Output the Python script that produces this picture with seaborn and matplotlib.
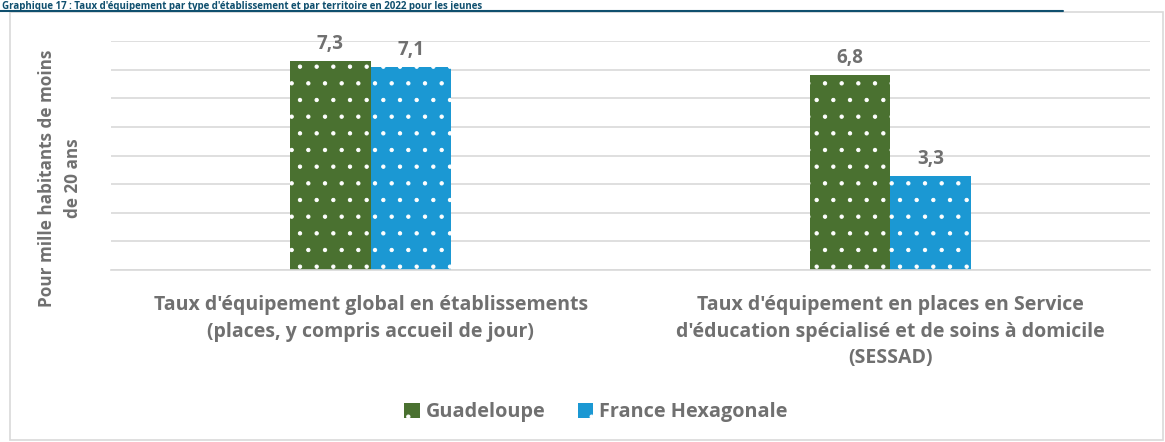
import matplotlib
matplotlib.use('Agg')
import matplotlib.pyplot as plt
from matplotlib.patches import Rectangle, Patch
from matplotlib.lines import Line2D
import pandas as pd
import seaborn as sns

categories = [
    "Taux d'équipement global en établissements\n(places, y compris accueil de jour)",
    "Taux d'équipement en places en Service\nd'éducation spécialisé et de soins à domicile\n(SESSAD)",
]
territoires = ['Guadeloupe', 'France Hexagonale']
guadeloupe = [7.3, 6.8]
france = [7.1, 3.3]
couleurs = ['#4a7130', '#1b98d3']
gris = '#707070'

df = pd.DataFrame({
    'categorie': categories * 2,
    'territoire': [territoires[0]] * 2 + [territoires[1]] * 2,
    'valeur': guadeloupe + france,
})

sns.set_style('white')
plt.rcParams['font.family'] = ['Open Sans', 'DejaVu Sans']
plt.rcParams['hatch.linewidth'] = 0.7

W, H = 1165, 442
fig = plt.figure(figsize=(W / 100, H / 100), dpi=100)
ax = fig.add_axes([111 / W, 1 - 270 / H, (1150 - 111) / W, (270 - 41) / H])

sns.barplot(data=df, x='categorie', y='valeur', hue='territoire', palette=couleurs,
            width=0.31, gap=0, ax=ax, legend=False, saturation=1)

for p in ax.patches:
    p.set_hatch('.')
    p.set_edgecolor('white')
    p.set_linewidth(0)

for cont in ax.containers:
    labels = [f'{v:.1f}'.replace('.', ',') for v in cont.datavalues]
    ax.bar_label(cont, labels=labels, padding=5, fontsize=13.5, fontweight='bold', color=gris)

ax.set_ylim(0, 8)
ax.set_xlim(-0.5, 1.5)
ax.set_yticks(range(0, 9))
ax.set_yticklabels([])
ax.tick_params(axis='y', length=0)
ax.tick_params(axis='x', length=0, pad=18)
ax.grid(axis='y', color='#d9d9d9', linewidth=1.2)
ax.set_axisbelow(True)
for s in ['top', 'right', 'left']:
    ax.spines[s].set_visible(False)
ax.spines['bottom'].set_color('#d9d9d9')
ax.spines['bottom'].set_linewidth(1.2)
for lbl in ax.get_xticklabels():
    lbl.set_fontsize(14)
    lbl.set_fontweight('bold')
    lbl.set_color(gris)
    lbl.set_linespacing(1.45)
ax.set_xlabel('')
ax.set_ylabel('')

fig.text(60 / W, 1 - 178 / H, 'Pour mille habitants de moins\nde 20 ans', rotation=90,
         ha='center', va='center', multialignment='center', fontsize=12.3,
         fontweight='bold', color=gris, linespacing=1.6)

handles = [Patch(facecolor=c, edgecolor='white', hatch='.', linewidth=0) for c in couleurs]
fig.legend(handles, territoires, loc='center', bbox_to_anchor=(596 / W, 1 - 412 / H),
           ncol=2, frameon=False, handlelength=0.8, handleheight=0.8,
           handletextpad=0.3, columnspacing=1.6, labelcolor=gris,
           prop={'weight': 'bold', 'size': 14.3})

# cadre du graphique
fig.patches.append(Rectangle((10 / W, 2 / H), (W - 12) / W, (H - 14) / H,
                             transform=fig.transFigure, fill=False,
                             edgecolor='#d9d9d9', linewidth=1.2))

# titre
fig.text(2 / W, 1 - 9 / H,
         "Graphique 17 : Taux d'équipement par type d'établissement et par territoire en 2022 pour les jeunes",
         ha='left', va='baseline', fontsize=7, fontweight='bold', color='#0f4f6e')
fig.add_artist(Line2D([0, 1063 / W], [1 - 11 / H, 1 - 11 / H], transform=fig.transFigure,
                      color='#0f4f6e', linewidth=1.5))

fig.savefig('out.png', dpi=100)
